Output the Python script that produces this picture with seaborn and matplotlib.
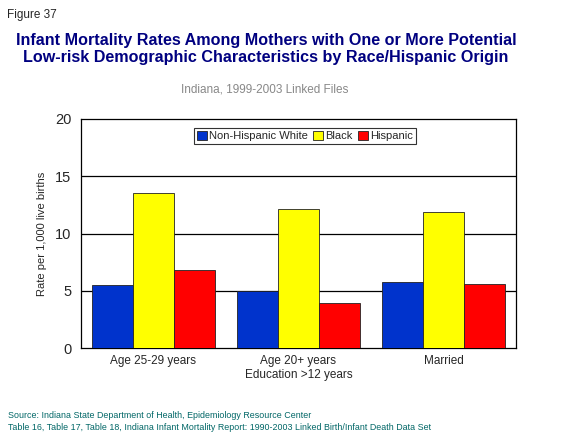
import pandas as pd
import matplotlib.pyplot as plt
import seaborn as sns

# Data
groups = ['Age 25-29 years', 'Age 20+ years\nEducation >12 years', 'Married']
races = ['Non-Hispanic White', 'Black', 'Hispanic']
white = [5.5, 4.95, 5.8]
black = [13.5, 12.1, 11.9]
hispanic = [6.8, 3.95, 5.6]
yticks = [0, 5, 10, 15, 20]

data = pd.DataFrame({
    'group': groups * 3,
    'race': [races[0]] * 3 + [races[1]] * 3 + [races[2]] * 3,
    'rate': white + black + hispanic,
})

sns.set_style('white')
plt.rcParams['font.family'] = ['Liberation Sans', 'DejaVu Sans']

fig = plt.figure(figsize=(5.72, 4.41), dpi=100)
ax = fig.add_axes([81 / 572, 1 - 348 / 441, 435 / 572, 229 / 441])

palette = {races[0]: '#0033CC', races[1]: '#FFFF00', races[2]: '#FF0000'}
sns.barplot(data=data, x='group', y='rate', hue='race', hue_order=races,
            order=groups, palette=palette, width=0.85, gap=0,
            edgecolor='#222222', linewidth=0.6, saturation=1, ax=ax, zorder=3)

for y in yticks[1:-1]:
    ax.axhline(y, color='black', linewidth=0.9, zorder=1)

ax.set_ylim(0, 20)
ax.set_xlim(-0.5, 2.5)
ax.set_yticks(yticks)
ax.tick_params(axis='y', labelsize=10.5, length=0, pad=7)
ax.tick_params(axis='x', labelsize=8.5, length=0, pad=5)
ax.set_xlabel('')
ax.set_ylabel('Rate per 1,000 live births', fontsize=8, labelpad=6)
for s in ax.spines.values():
    s.set_color('black')
    s.set_linewidth(0.9)

leg = ax.legend(loc='upper center', ncol=3, fontsize=8, frameon=True,
                fancybox=False, edgecolor='black', handlelength=0.9,
                handleheight=0.9, handletextpad=0.2, columnspacing=0.5,
                borderpad=0.25, bbox_to_anchor=(0.515, 0.985))
leg.get_frame().set_linewidth(0.8)

fig.text(7 / 572, 1 - 15 / 441, 'Figure 37', fontsize=8.5, va='center')
fig.text(266 / 572, 1 - 49 / 441,
         'Infant Mortality Rates Among Mothers with One or More Potential\n'
         'Low-risk Demographic Characteristics by Race/Hispanic Origin',
         fontsize=11.6, fontweight='bold', color='#000080', ha='center',
         va='center', linespacing=1.2)
fig.text(265 / 572, 1 - 90 / 441, 'Indiana, 1999-2003 Linked Files',
         fontsize=8.5, color='#888888', ha='center', va='center')
fig.text(8 / 572, 1 - 416 / 441,
         'Source: Indiana State Department of Health, Epidemiology Resource Center',
         fontsize=6.4, color='#006666', va='center')
fig.text(8 / 572, 1 - 428 / 441,
         'Table 16, Table 17, Table 18, Indiana Infant Mortality Report: '
         '1990-2003 Linked Birth/Infant Death Data Set',
         fontsize=6.4, color='#006666', va='center')

fig.savefig('out.png', dpi=100)
